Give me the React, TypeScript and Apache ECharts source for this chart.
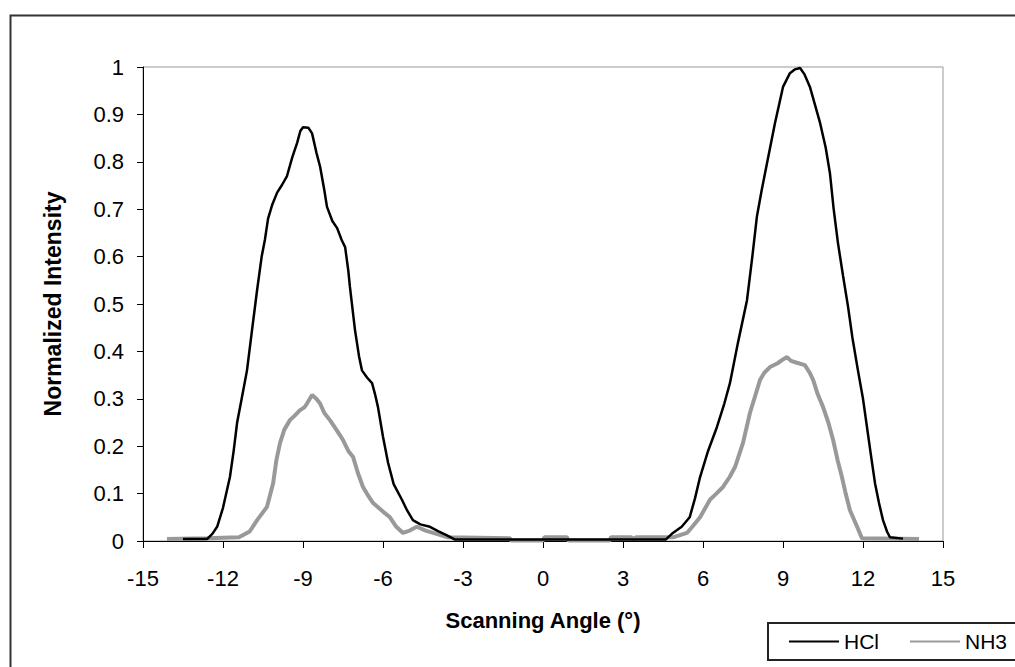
import React, { useEffect, useRef } from "react";
import * as echarts from "echarts";

const seriesNames = ["HCl", "NH3"];

const hclData: [number, number][] = [
  [-13.5, 0.004], [-12.6, 0.004], [-12.4, 0.015], [-12.22, 0.03], [-12.0, 0.07], [-11.74, 0.135],
  [-11.6, 0.19], [-11.47, 0.25], [-11.3, 0.3], [-11.1, 0.36], [-10.9, 0.45], [-10.72, 0.53],
  [-10.55, 0.6], [-10.43, 0.635], [-10.31, 0.68], [-10.15, 0.71], [-9.97, 0.735], [-9.8, 0.75],
  [-9.6, 0.77], [-9.4, 0.81], [-9.22, 0.84], [-9.1, 0.865], [-9.0, 0.873], [-8.8, 0.872],
  [-8.66, 0.86], [-8.5, 0.82], [-8.36, 0.79], [-8.2, 0.74], [-8.1, 0.705], [-7.9, 0.675],
  [-7.72, 0.66], [-7.55, 0.635], [-7.42, 0.62], [-7.3, 0.57], [-7.24, 0.536], [-7.05, 0.445],
  [-6.9, 0.39], [-6.79, 0.36], [-6.6, 0.345], [-6.41, 0.333], [-6.3, 0.31], [-6.19, 0.283],
  [-6.0, 0.22], [-5.81, 0.165], [-5.6, 0.12], [-5.29, 0.087], [-5.1, 0.065], [-4.88, 0.044],
  [-4.6, 0.035], [-4.24, 0.03], [-3.9, 0.02], [-3.6, 0.012], [-3.3, 0.003], [4.6, 0.003],
  [4.87, 0.017], [5.2, 0.03], [5.5, 0.05], [5.7, 0.09], [5.89, 0.135], [6.19, 0.19],
  [6.52, 0.24], [6.8, 0.29], [7.01, 0.333], [7.31, 0.418], [7.65, 0.508], [7.85, 0.6],
  [8.02, 0.684], [8.2, 0.74], [8.4, 0.797], [8.7, 0.882], [9.0, 0.958], [9.26, 0.987],
  [9.45, 0.995], [9.64, 0.998], [9.8, 0.985], [10.01, 0.958], [10.2, 0.92], [10.39, 0.882],
  [10.6, 0.83], [10.76, 0.776], [10.9, 0.7], [11.06, 0.629], [11.25, 0.56], [11.44, 0.494],
  [11.6, 0.43], [11.81, 0.36], [12.0, 0.3], [12.15, 0.24], [12.3, 0.18], [12.45, 0.122],
  [12.6, 0.08], [12.75, 0.044], [12.9, 0.02], [13.01, 0.008], [13.5, 0.005],
];

const nh3Data: [number, number][] = [
  [-14.1, 0.004], [-12.6, 0.006], [-11.4, 0.008], [-11.0, 0.02], [-10.72, 0.044], [-10.35, 0.072],
  [-10.12, 0.122], [-10.0, 0.17], [-9.86, 0.207], [-9.7, 0.235], [-9.49, 0.255], [-9.3, 0.265],
  [-9.11, 0.276], [-8.95, 0.282], [-8.85, 0.29], [-8.66, 0.308], [-8.5, 0.3], [-8.36, 0.29],
  [-8.2, 0.27], [-7.99, 0.255], [-7.75, 0.235], [-7.5, 0.213], [-7.3, 0.19], [-7.12, 0.177],
  [-6.95, 0.145], [-6.75, 0.114], [-6.55, 0.095], [-6.37, 0.08], [-6.0, 0.062], [-5.74, 0.05],
  [-5.5, 0.03], [-5.25, 0.017], [-5.0, 0.022], [-4.73, 0.03], [-4.4, 0.022], [-4.12, 0.017],
  [-3.6, 0.008], [-1.24, 0.006], [-1.2, 0.001], [0, 0.001], [0.05, 0.008], [0.9, 0.008],
  [0.95, 0.001], [2.5, 0.001], [2.55, 0.008], [3.3, 0.008], [3.4, 0.004], [3.5, 0.008],
  [4.9, 0.008], [5.4, 0.017], [5.6, 0.03], [5.89, 0.05], [6.26, 0.087], [6.5, 0.1],
  [6.75, 0.114], [7.0, 0.135], [7.2, 0.156], [7.5, 0.207], [7.76, 0.27], [8.14, 0.34],
  [8.3, 0.355], [8.51, 0.367], [8.8, 0.375], [9.0, 0.383], [9.15, 0.388], [9.3, 0.38],
  [9.52, 0.376], [9.82, 0.371], [10.0, 0.355], [10.13, 0.34], [10.3, 0.31], [10.5, 0.283],
  [10.7, 0.25], [10.88, 0.213], [11.05, 0.17], [11.21, 0.135], [11.35, 0.1], [11.51, 0.065],
  [11.78, 0.03], [11.96, 0.006], [14.1, 0.004],
];

const xAxisTitle = "Scanning Angle (°)";
const yAxisTitle = "Normalized Intensity";

const FONT = "'Liberation Sans', Arial, sans-serif";

export default function App() {
  const ref = useRef<HTMLDivElement>(null);

  useEffect(() => {
    if (!ref.current) return;
    const chart = echarts.init(ref.current, undefined, { renderer: "svg" });
    chart.setOption({
      animation: false,
      backgroundColor: "#ffffff",
      textStyle: { fontFamily: FONT },
      graphic: [
        {
          type: "rect",
          left: 8,
          top: 13,
          shape: { width: 1100, height: 700 },
          style: { fill: "none", stroke: "#333", lineWidth: 2 },
          z: 0,
        },
      ],
      grid: {
        left: 143,
        top: 67,
        right: 72,
        bottom: 126,
        show: true,
        borderColor: "#999",
        borderWidth: 1,
        backgroundColor: "transparent",
      },
      legend: {
        left: 768,
        top: 623,
        width: 320,
        orient: "horizontal",
        itemWidth: 50,
        itemHeight: 14,
        itemGap: 30,
        padding: [8, 24, 8, 20],
        borderColor: "#222",
        borderWidth: 2,
        backgroundColor: "#fff",
        itemStyle: { opacity: 0 },
        textStyle: { fontSize: 21, color: "#000", fontFamily: FONT },
        data: seriesNames,
      },
      xAxis: {
        type: "value",
        min: -15,
        max: 15,
        interval: 3,
        name: xAxisTitle,
        nameLocation: "middle",
        nameGap: 68,
        nameTextStyle: { fontSize: 22, fontWeight: "bold", color: "#000", fontFamily: FONT },
        axisLine: { show: true, onZero: false, lineStyle: { color: "#000", width: 1 } },
        axisTick: { show: true, inside: false, length: 7, lineStyle: { color: "#000" } },
        axisLabel: { margin: 26, fontSize: 22, color: "#000", fontFamily: FONT },
        splitLine: { show: false },
      },
      yAxis: {
        type: "value",
        min: 0,
        max: 1,
        interval: 0.1,
        name: yAxisTitle,
        nameLocation: "middle",
        nameGap: 79,
        nameTextStyle: { fontSize: 23, fontWeight: "bold", color: "#000", fontFamily: FONT },
        axisLine: { show: true, onZero: false, lineStyle: { color: "#000", width: 1 } },
        axisTick: { show: true, inside: false, length: 6, lineStyle: { color: "#000" } },
        axisLabel: { margin: 19, fontSize: 22, color: "#000", fontFamily: FONT },
        splitLine: { show: false },
      },
      series: [
        {
          name: seriesNames[0],
          type: "line",
          data: hclData,
          symbol: "none",
          showSymbol: false,
          lineStyle: { color: "#000", width: 2.5 },
          itemStyle: { color: "#000" },
          z: 3,
        },
        {
          name: seriesNames[1],
          type: "line",
          data: nh3Data,
          symbol: "none",
          showSymbol: false,
          lineStyle: { color: "#999", width: 4 },
          itemStyle: { color: "#999" },
          z: 2,
        },
      ],
    });
    return () => chart.dispose();
  }, []);

  return (
    <div
      ref={ref}
      style={{ position: "fixed", left: 0, top: 0, width: 1015, height: 667 }}
    />
  );
}
